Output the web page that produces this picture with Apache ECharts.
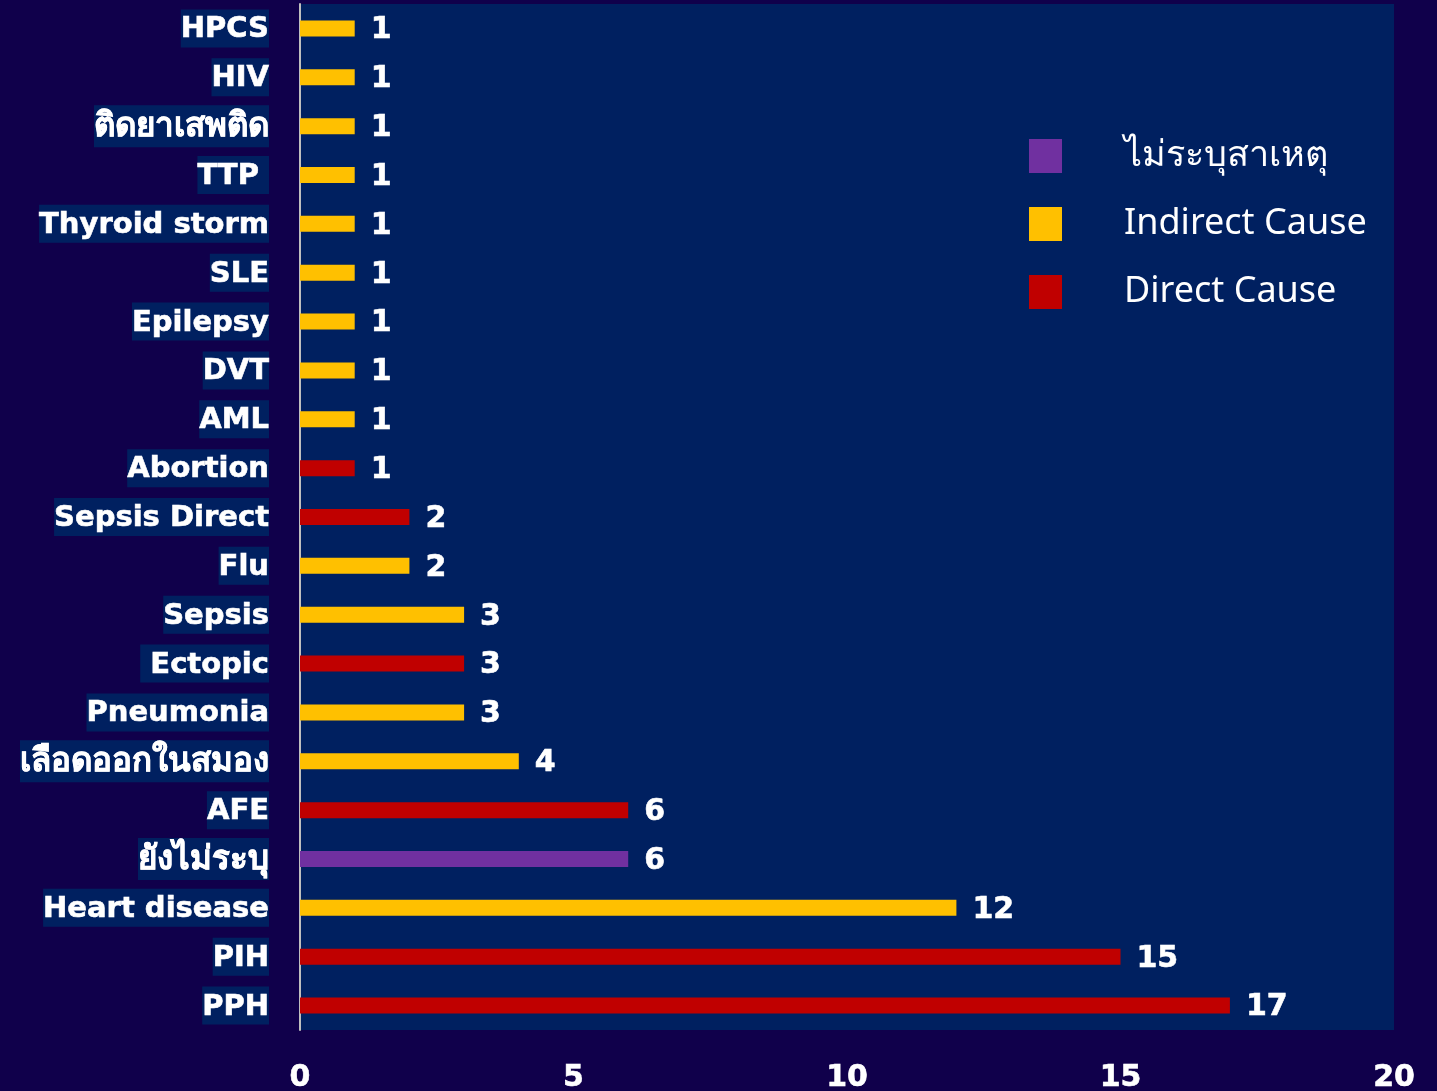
<!DOCTYPE html>
<html>
<head>
<meta charset="utf-8">
<script src="https://cdn.jsdelivr.net/npm/echarts@6/dist/echarts.min.js"></script>
<style>
  html, body { margin: 0; padding: 0; background: #10004B; }
  #chart { width: 1437px; height: 1091px; }
</style>
</head>
<body>
<div id="chart"></div>
<script>
// categories from bottom to top
const categories = ['PPH', 'PIH', 'Heart disease', 'ยังไม่ระบุ', 'AFE', 'เลือดออกในสมอง', 'Pneumonia', ' Ectopic', 'Sepsis', 'Flu', 'Sepsis Direct', 'Abortion', 'AML', 'DVT', 'Epilepsy', 'SLE', 'Thyroid storm', 'TTP ', 'ติดยาเสพติด', 'HIV', 'HPCS']
const deaths = [17, 15, 12, 6, 6, 4, 3, 3, 3, 2, 2, 1, 1, 1, 1, 1, 1, 1, 1, 1, 1]
// U = ไม่ระบุสาเหตุ, I = Indirect Cause, D = Direct Cause
const causeType = ['D', 'D', 'I', 'U', 'D', 'I', 'I', 'D', 'I', 'I', 'D', 'D', 'I', 'I', 'I', 'I', 'I', 'I', 'I', 'I', 'I']
const xTicks = [0, 5, 10, 15, 20]

const seriesDefs = [
  { key: 'U', name: 'ไม่ระบุสาเหตุ', color: '#7030A0' },
  { key: 'I', name: 'Indirect Cause', color: '#FFC000' },
  { key: 'D', name: 'Direct Cause', color: '#C00000' }
]

const chart = echarts.init(document.getElementById('chart'))

const boldFont = '"DejaVu Sans", "Noto Sans", sans-serif'
const isThai = (s) => /[\u0E00-\u0E7F]/.test(s)

chart.setOption({
  backgroundColor: '#10004B',
  animation: false,
  legend: {
    orient: 'vertical',
    left: 1029,
    top: 138,
    padding: 0,
    itemWidth: 33,
    itemHeight: 34,
    itemGap: 32,
    icon: 'rect',
    textStyle: {
      color: '#ffffff',
      fontSize: 36,
      fontFamily: '"Noto Sans", sans-serif',
      padding: [8, 0, 0, 57]
    },
    data: seriesDefs.map((s) => s.name)
  },
  grid: {
    left: 300,
    right: 43,
    top: 4,
    bottom: 61,
    show: true,
    backgroundColor: '#002060',
    borderWidth: 0,
    containLabel: false,
    outerBoundsMode: 'none'
  },
  xAxis: {
    type: 'value',
    min: xTicks[0],
    max: xTicks[xTicks.length - 1],
    interval: 5,
    axisLine: { show: false },
    axisTick: { show: false },
    splitLine: { show: false },
    axisLabel: {
      color: '#ffffff',
      fontSize: 30,
      fontWeight: 'bold',
      fontFamily: boldFont,
      margin: 33,
      textBorderColor: '#ffffff',
      textBorderWidth: 0.6
    }
  },
  yAxis: {
    type: 'category',
    data: categories,
    axisTick: { show: false },
    axisLine: {
      show: true,
      lineStyle: { color: '#BFBFBF', width: 2 }
    },
    axisLabel: {
      color: '#ffffff',
      fontSize: 29,
      fontWeight: 'bold',
      fontFamily: boldFont,
      margin: 31,
      backgroundColor: '#002060',
      padding: [6, 0, 3, 0],
      textBorderColor: '#ffffff',
      textBorderWidth: 0.6,
      formatter: (v) => (isThai(v) ? '{th|' + v + '}' : v),
      rich: {
        th: {
          fontSize: 33,
          fontWeight: 'bold',
          color: '#ffffff',
          fontFamily: boldFont,
          textBorderColor: '#ffffff',
          textBorderWidth: 0.6
        }
      }
    }
  },
  series: seriesDefs.map((s) => ({
    name: s.name,
    type: 'bar',
    stack: 'cause',
    barWidth: 16,
    itemStyle: { color: s.color },
    label: {
      show: true,
      position: 'right',
      distance: 16,
      offset: [0, 2],
      color: '#ffffff',
      fontSize: 30,
      fontWeight: 'bold',
      fontFamily: boldFont,
      textBorderColor: '#ffffff',
      textBorderWidth: 0.6
    },
    data: deaths.map((v, i) => (causeType[i] === s.key ? v : '-'))
  }))
})
</script>
</body>
</html>
